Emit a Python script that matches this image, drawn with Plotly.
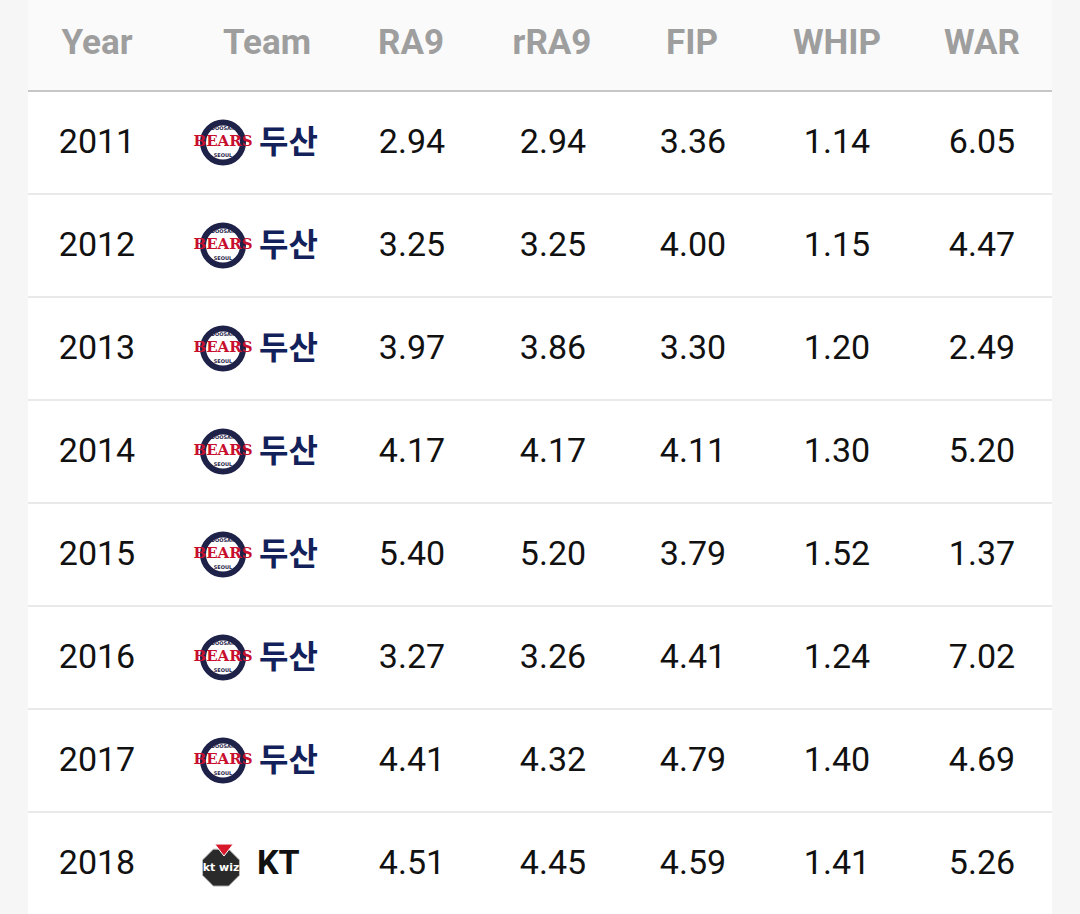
import plotly.graph_objects as go

# ---- data ----
columns = ["Year", "Team", "RA9", "rRA9", "FIP", "WHIP", "WAR"]
years = ["2011", "2012", "2013", "2014", "2015", "2016", "2017", "2018"]
teams = ["두산", "두산", "두산", "두산", "두산", "두산", "두산", "KT"]
ra9 = ["2.94", "3.25", "3.97", "4.17", "5.40", "3.27", "4.41", "4.51"]
rra9 = ["2.94", "3.25", "3.86", "4.17", "5.20", "3.26", "4.32", "4.45"]
fip = ["3.36", "4.00", "3.30", "4.11", "3.79", "4.41", "4.79", "4.59"]
whip = ["1.14", "1.15", "1.20", "1.30", "1.52", "1.24", "1.40", "1.41"]
war = ["6.05", "4.47", "2.49", "5.20", "1.37", "7.02", "4.69", "5.26"]

# ---- layout constants (pixels on x, row index on y) ----
W, H = 1080, 914
HEADER_PX = 91
ROW_PX = 103.0
y_top = (0 - HEADER_PX) / ROW_PX - 0.5
y_bot = (H - HEADER_PX) / ROW_PX - 0.5
y_head = (45 - HEADER_PX) / ROW_PX - 0.5
TXT_DY = 0.02  # small downward nudge of text inside a row

header_x = [97, 267, 411, 552, 692, 837, 982]
col_x = {"Year": 97, "RA9": 412, "rRA9": 553, "FIP": 693, "WHIP": 837, "WAR": 982}
logo_x = 223
name_x = 257
kor_name_x = 259

FONT = "Roboto"
rows = list(range(len(years)))
rows_t = [r + TXT_DY for r in rows]

fig = go.Figure()

# header labels
fig.add_trace(go.Scatter(
    x=header_x, y=[y_head] * len(columns), mode="text", text=columns,
    textposition="middle center",
    textfont=dict(family=FONT, size=35, color="#9e9e9e", weight="bold"),
    hoverinfo="skip", showlegend=False))

# numeric columns
for name, vals in [("Year", years), ("RA9", ra9), ("rRA9", rra9),
                   ("FIP", fip), ("WHIP", whip), ("WAR", war)]:
    fig.add_trace(go.Scatter(
        x=[col_x[name]] * len(vals), y=rows_t, mode="text", text=vals,
        textposition="middle center",
        textfont=dict(family=FONT, size=34, color="#111111"),
        hoverinfo="skip", showlegend=False))

# team names
doosan_rows = [i for i, t in enumerate(teams) if t == "두산"]
kt_rows = [i for i, t in enumerate(teams) if t == "KT"]

fig.add_trace(go.Scatter(
    x=[kor_name_x] * len(doosan_rows), y=[r + 0.02 for r in doosan_rows], mode="text",
    text=[teams[i] for i in doosan_rows], textposition="middle right",
    textfont=dict(family="Noto Sans CJK KR", size=32, color="#13215a", weight="bold"),
    hoverinfo="skip", showlegend=False))
fig.add_trace(go.Scatter(
    x=[name_x] * len(kt_rows), y=[r + TXT_DY for r in kt_rows], mode="text",
    text=[teams[i] for i in kt_rows], textposition="middle right",
    textfont=dict(family=FONT, size=34, color="#111111", weight="bold"),
    hoverinfo="skip", showlegend=False))

# Doosan Bears logos
fig.add_trace(go.Scatter(
    x=[logo_x] * len(doosan_rows), y=doosan_rows, mode="markers",
    marker=dict(symbol="circle", size=40, color="#ffffff",
                line=dict(color="#1f2248", width=6)),
    hoverinfo="skip", showlegend=False))
fig.add_trace(go.Scatter(
    x=[logo_x] * len(doosan_rows), y=doosan_rows, mode="text",
    text=["BEARS"] * len(doosan_rows), textposition="middle center",
    textfont=dict(family="DejaVu Serif", size=15, color="#c8102e", weight="bold"),
    hoverinfo="skip", showlegend=False))
fig.add_trace(go.Scatter(
    x=[logo_x] * len(doosan_rows), y=[r - 0.13 for r in doosan_rows], mode="text",
    text=["DOOSAN"] * len(doosan_rows), textposition="middle center",
    textfont=dict(family="DejaVu Sans", size=5, color="#1f2248", weight="bold"),
    hoverinfo="skip", showlegend=False))
fig.add_trace(go.Scatter(
    x=[logo_x] * len(doosan_rows), y=[r + 0.13 for r in doosan_rows], mode="text",
    text=["SEOUL"] * len(doosan_rows), textposition="middle center",
    textfont=dict(family="DejaVu Sans", size=5, color="#1f2248", weight="bold"),
    hoverinfo="skip", showlegend=False))

# KT wiz logos
fig.add_trace(go.Scatter(
    x=[221] * len(kt_rows), y=[r + 0.04 for r in kt_rows], mode="markers",
    marker=dict(symbol="octagon", size=40, color="#2a2a2a",
                line=dict(color="#bbbbbb", width=1)),
    hoverinfo="skip", showlegend=False))
fig.add_trace(go.Scatter(
    x=[224] * len(kt_rows), y=[r - 0.15 for r in kt_rows], mode="markers",
    marker=dict(symbol="triangle-down", size=16, color="#d7182a",
                line=dict(color="#ffffff", width=1)),
    hoverinfo="skip", showlegend=False))
fig.add_trace(go.Scatter(
    x=[221] * len(kt_rows), y=[r + 0.05 for r in kt_rows], mode="text",
    text=["kt wiz"] * len(kt_rows), textposition="middle center",
    textfont=dict(family="DejaVu Sans", size=11, color="#ffffff", weight="bold"),
    hoverinfo="skip", showlegend=False))

# ---- background shapes ----
shapes = [
    dict(type="rect", xref="x", yref="y", x0=28, x1=1052, y0=y_top, y1=y_bot,
         fillcolor="#ffffff", line=dict(width=0), layer="below"),
    dict(type="rect", xref="x", yref="y", x0=28, x1=1052, y0=y_top, y1=-0.5,
         fillcolor="#fafafa", line=dict(width=0), layer="below"),
    dict(type="line", xref="x", yref="y", x0=28, x1=1052, y0=-0.5, y1=-0.5,
         line=dict(color="#c6c6c6", width=2), layer="below"),
]
for i in rows[:-1]:
    shapes.append(dict(type="line", xref="x", yref="y", x0=28, x1=1052,
                       y0=i + 0.5, y1=i + 0.5,
                       line=dict(color="#e9e9e9", width=2), layer="below"))

fig.update_layout(
    width=W, height=H, margin=dict(l=0, r=0, t=0, b=0),
    paper_bgcolor="#f6f6f7", plot_bgcolor="#f6f6f7",
    shapes=shapes,
    xaxis=dict(range=[0, W], visible=False, fixedrange=True),
    yaxis=dict(range=[y_bot, y_top], visible=False, fixedrange=True),
    showlegend=False,
)

fig.write_html(
    "out.html",
    config={"displayModeBar": False},
    post_script="document.body.style.margin='0';document.body.style.overflow='hidden';",
)
